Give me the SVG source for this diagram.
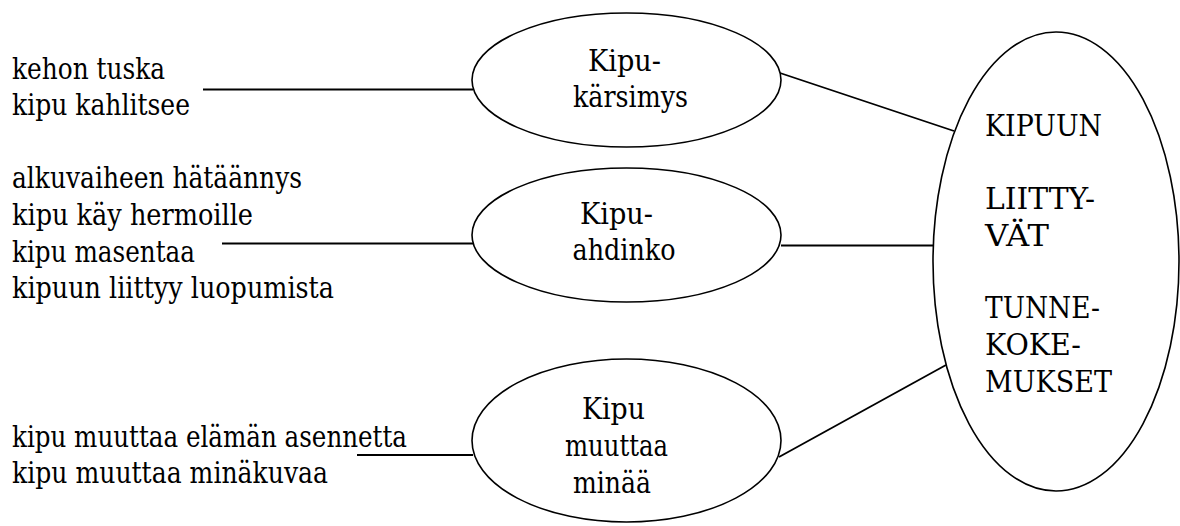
<svg xmlns="http://www.w3.org/2000/svg" width="1180" height="526" viewBox="0 0 1180 526">
<style>
text{font-family:"DejaVu Serif","Liberation Serif",serif;font-size:29px;fill:#000}
.n{fill:#fff;stroke:#000;stroke-width:1.6}
.c{stroke:#000;stroke-width:1.8;fill:none}
</style>
<rect width="1180" height="526" fill="#fff"/>
<g id="connectors">
<line class="c" x1="203" y1="89.5" x2="473" y2="89.5"/>
<line class="c" x1="222" y1="243.5" x2="473" y2="243.5"/>
<line class="c" x1="357" y1="455" x2="473" y2="455"/>
<line class="c" x1="780" y1="73" x2="954" y2="131"/>
<line class="c" x1="781" y1="245.5" x2="933" y2="245.5"/>
<line class="c" x1="779" y1="457" x2="946" y2="365"/>
</g>
<g id="list1">
<text x="12" y="79" textLength="153" lengthAdjust="spacingAndGlyphs">kehon tuska</text>
<text x="12" y="115" textLength="178" lengthAdjust="spacingAndGlyphs">kipu kahlitsee</text>
</g>
<g id="list2">
<text x="12" y="188" textLength="290" lengthAdjust="spacingAndGlyphs">alkuvaiheen hätäännys</text>
<text x="12" y="225" textLength="241" lengthAdjust="spacingAndGlyphs">kipu käy hermoille</text>
<text x="12" y="262" textLength="183" lengthAdjust="spacingAndGlyphs">kipu masentaa</text>
<text x="12" y="298" textLength="322" lengthAdjust="spacingAndGlyphs">kipuun liittyy luopumista</text>
</g>
<g id="list3">
<text x="12" y="447" textLength="395" lengthAdjust="spacingAndGlyphs">kipu muuttaa elämän asennetta</text>
<text x="12" y="483" textLength="316" lengthAdjust="spacingAndGlyphs">kipu muuttaa minäkuvaa</text>
</g>
<g id="kipukarsimys">
<ellipse class="n" cx="626.5" cy="80" rx="154.5" ry="67"/>
<text x="588" y="71" textLength="73" lengthAdjust="spacingAndGlyphs">Kipu-</text>
<text x="573" y="107" textLength="115" lengthAdjust="spacingAndGlyphs">kärsimys</text>
</g>
<g id="kipuahdinko">
<ellipse class="n" cx="626.5" cy="235" rx="154.5" ry="67"/>
<text x="580" y="224" textLength="73" lengthAdjust="spacingAndGlyphs">Kipu-</text>
<text x="572.5" y="260" textLength="103" lengthAdjust="spacingAndGlyphs">ahdinko</text>
</g>
<g id="kipumuuttaaminaa">
<ellipse class="n" cx="626.5" cy="440.5" rx="154.5" ry="81.5"/>
<text x="582" y="419" textLength="63" lengthAdjust="spacingAndGlyphs">Kipu</text>
<text x="565" y="456" textLength="103" lengthAdjust="spacingAndGlyphs">muuttaa</text>
<text x="573" y="493" textLength="78" lengthAdjust="spacingAndGlyphs">minää</text>
</g>
<g id="tunnekokemukset">
<ellipse class="n" cx="1056" cy="261.5" rx="123" ry="229.5"/>
<text x="985" y="136" textLength="117" lengthAdjust="spacingAndGlyphs">KIPUUN</text>
<text x="985" y="209" textLength="110" lengthAdjust="spacingAndGlyphs">LIITTY-</text>
<text x="985" y="246" textLength="64" lengthAdjust="spacingAndGlyphs">VÄT</text>
<text x="985" y="318" textLength="115" lengthAdjust="spacingAndGlyphs">TUNNE-</text>
<text x="985" y="355" textLength="96" lengthAdjust="spacingAndGlyphs">KOKE-</text>
<text x="985" y="392" textLength="127" lengthAdjust="spacingAndGlyphs">MUKSET</text>
</g>
</svg>
